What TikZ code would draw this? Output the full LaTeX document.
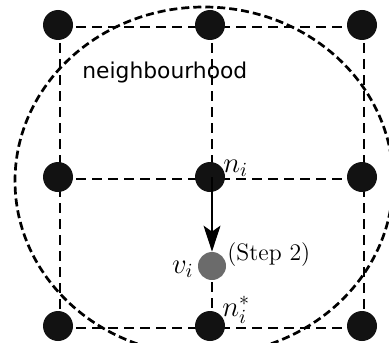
\documentclass[tikz,border=0pt]{standalone}
\usepackage{fontspec}
\newfontfamily\dejavu{DejaVu Sans}
\usetikzlibrary{arrows.meta}
\begin{document}
\begin{tikzpicture}[x=0.5pt,y=-0.5pt,
  dot/.style={circle,fill=black!93,minimum size=15pt,inner sep=0pt},
  graydot/.style={circle,fill=black!58,minimum size=14pt,inner sep=0pt},
  gridline/.style={line width=0.6pt,dash pattern=on 5pt off 3pt},
  hood/.style={line width=1.35pt,dash pattern=on 4pt off 2pt},
  lab/.style={inner sep=0pt,font=\fontsize{11.9}{14}\selectfont},
  mlab/.style={inner sep=0pt,font=\fontsize{14.4}{17}\selectfont},
  arr/.style={line width=0.6pt,-{Stealth[length=13pt,width=8.5pt,inset=3pt]}}]
\useasboundingbox (0,0) rectangle (389,342);
\clip (0,0) rectangle (389,342);
% grid positions
\coordinate (tl) at (58,25);  \coordinate (tm) at (210,25);  \coordinate (tr) at (362,25);
\coordinate (ml) at (58,177); \coordinate (mm) at (210,177); \coordinate (mr) at (362,177);
\coordinate (bl) at (58,326); \coordinate (bm) at (210,326); \coordinate (br) at (362,326);
\coordinate (vc) at (212,266);
% grid lines (slightly offset as in the reference)
\begin{scope}[gridline]
\draw ([shift={(1pt,-1pt)}]tl) -- ([shift={(1pt,-1pt)}]tr);
\draw ([shift={(1pt,-1pt)}]ml) -- ([shift={(1pt,-1pt)}]mr);
\draw ([shift={(1pt,-1pt)}]bl) -- ([shift={(1pt,-1pt)}]br);
\draw ([shift={(1pt,-1pt)}]tl) -- ([shift={(1pt,-1pt)}]bl);
\draw ([shift={(1pt,-1pt)}]tr) -- ([shift={(1pt,-1pt)}]br);
\draw ([shift={(1pt,-1pt)}]tm) -- ([shift={(1pt,-1pt)}]mm);
\draw (vc) -- ([shift={(1pt,-1pt)}]bm);
\end{scope}
% neighbourhood
\draw[hood] (204,181) ellipse [x radius=94.5pt, y radius=87pt];
% nodes
\foreach \p in {tl,tm,tr,ml,mm,mr,bl,bm,br}
  \node[dot] (n\p) at (\p) {};
\node[graydot] (v) at (vc) {};
\draw[arr] (v |- nmm) -- (v.north);
% labels
\node[mlab,anchor=base west] (lni) at (223,172) {$n_i$};
\node[mlab,anchor=base east] (lvi) at (194,273) {$v_i$};
\node[lab,anchor=base west] (lstep) at (227,260) {(Step 2)};
\node[mlab,anchor=base west] (lnstar) at (222,316) {$n_i^*$};
\node[lab,anchor=base west,font=\dejavu\fontsize{10.9}{13}\selectfont] (lhood) at (82,78) {neighbourhood};
\end{tikzpicture}
\end{document}
